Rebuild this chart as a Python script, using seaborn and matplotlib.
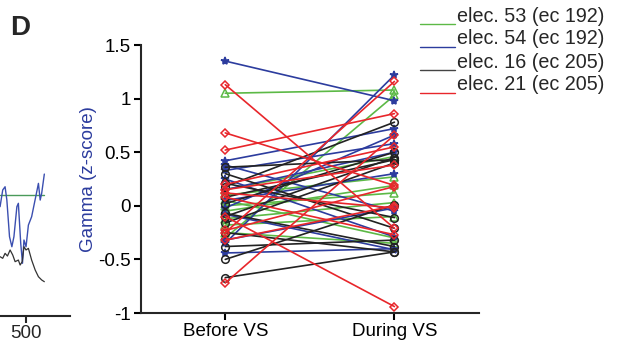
import numpy as np
import pandas as pd
import matplotlib
matplotlib.use("Agg")
import matplotlib.pyplot as plt
from matplotlib.lines import Line2D
import seaborn as sns

sns.set_style("ticks")
plt.rcParams['font.family'] = ['Liberation Sans', 'DejaVu Sans']

# ---------------- data ----------------
conditions = ["Before VS", "During VS"]

green_before = [1.05, 0.15, 0.10, 0.05, 0.00, -0.05, -0.12, -0.18, -0.25, -0.30]
green_during = [1.08, 0.46, 0.27, -0.30, 0.12, 0.19, 0.03, -0.10, -0.35, 1.03]

blue_before = [1.35, 0.42, 0.38, 0.33, 0.25, 0.15, 0.05, -0.02, -0.08, -0.32, -0.35, -0.44]
blue_during = [0.98, 0.72, -0.05, 0.58, -0.29, 0.50, 0.30, 0.66, -0.41, -0.02, 1.22, -0.40]

black_before = [0.36, 0.30, 0.21, 0.18, 0.08, 0.02, -0.07, -0.10, -0.16, -0.25, -0.38, -0.50, -0.67]
black_during = [0.43, -0.21, -0.11, 0.78, 0.43, 0.50, -0.38, 0.45, 0.40, -0.43, -0.32, 0.01, -0.43]

red_before = [1.13, 0.68, 0.52, 0.20, 0.15, 0.12, 0.08, -0.10, -0.23, -0.25, -0.32, -0.72]
red_during = [-0.21, 0.19, 0.86, 0.55, 0.38, -0.02, -0.27, -0.94, 0.18, 1.16, 0.00, 0.66]

legend_labels = ["elec. 53 (ec 192)", "elec. 54 (ec 192)", "elec. 16 (ec 205)", "elec. 21 (ec 205)"]

# partial neighbouring panel (cropped at left edge)
left_t_blue = [413, 422, 430, 436, 445, 453, 460, 470, 475, 483, 489, 494, 501, 509, 520, 535, 543, 549, 554, 563]
left_blue = [0.007, 0.161, 0.191, 0.068, -0.270, -0.363, -0.270, 0.007, 0.038, -0.332, -0.516, -0.301,
             -0.363, -0.163, -0.086, 0.114, 0.222, 0.068, 0.130, 0.308]
left_t_black = [413, 422, 430, 438, 447, 456, 464, 475, 481, 488, 494, 501, 509, 520, 532, 543, 554, 563]
left_black = [-0.455, -0.470, -0.424, -0.449, -0.393, -0.440, -0.501, -0.486, -0.532, -0.501, -0.363,
              -0.393, -0.378, -0.486, -0.578, -0.640, -0.670, -0.686]
left_t_green = [413, 563]
left_green = [0.114, 0.114]

# ---------------- styles ----------------
C_GREEN = "#5cb946"
C_BLUE = "#2c3c9e"
C_BLACK = "#222222"
C_RED = "#e8262b"
FS = 13.5

W, H = 618, 356
fig = plt.figure(figsize=(W / 100, H / 100), dpi=100)

# main axes
ax = fig.add_axes([140.7 / W, 1 - 313 / H, (479 - 140.7) / W, (313 - 45) / H])

groups = [
    (green_before, green_during, C_GREEN, "^", 5.5, "none"),
    (blue_before, blue_during, C_BLUE, "*", 6.0, C_BLUE),
    (black_before, black_during, C_BLACK, "o", 5.5, "none"),
    (red_before, red_during, C_RED, "D", 4.0, "none"),
]

for before, during, color, marker, ms, mfc in groups:
    n = len(before)
    df = pd.DataFrame({
        "x": [0] * n + [1] * n,
        "value": list(before) + list(during),
        "unit": list(range(n)) * 2,
    })
    sns.lineplot(data=df, x="x", y="value", units="unit", estimator=None, ax=ax,
                 color=color, lw=1.2, marker=marker, markersize=ms, mfc=mfc,
                 mec=color, mew=1.1, legend=False)

ax.set_xlim(-0.5, 1.5)
ax.set_ylim(-1, 1.5)
ax.set_xticks([0, 1])
ax.set_xticklabels(conditions, fontsize=FS)
ax.set_yticks([-1, -0.5, 0, 0.5, 1, 1.5])
ax.set_yticklabels(["-1", "-0.5", "0", "0.5", "1", "1.5"], fontsize=FS)
ax.set_xlabel("")
ax.set_ylabel("Gamma (z-score)", color=C_BLUE, fontsize=FS, labelpad=1)
sns.despine(ax=ax)
for s in ("left", "bottom"):
    ax.spines[s].set_linewidth(1.5)
ax.tick_params(direction="out", length=5, width=1.5, pad=2, colors="black")

# legend drawn manually (lines sit at the text baseline)
rows_text = [16, 39, 62, 85]
rows_line = [24, 47, 70, 92.5]
for lab, col, yt, yl in zip(legend_labels, [C_GREEN, C_BLUE, "#444444", C_RED], rows_text, rows_line):
    fig.add_artist(Line2D([420 / W, 455 / W], [1 - yl / H, 1 - yl / H], color=col, lw=1.0))
    fig.text(457 / W, 1 - yt / H, lab, fontsize=14.2, va="center", ha="left")

# partial left panel
axl = fig.add_axes([-121.8 / W, 1 - 315.7 / H, (70 + 121.8) / W, (315.7 - 45) / H])
sns.lineplot(x=left_t_green, y=left_green, ax=axl, color="#4a9a5a", lw=1.0, estimator=None)
sns.lineplot(x=left_t_blue, y=left_blue, ax=axl, color="#3b4fb0", lw=1.0, estimator=None, sort=False)
sns.lineplot(x=left_t_black, y=left_black, ax=axl, color="#333333", lw=0.9, estimator=None, sort=False)
axl.set_xlim(0, 650)
axl.set_ylim(-1, 1.5)
axl.set_xticks([500])
axl.set_xticklabels(["500"], fontsize=FS)
axl.set_yticks([])
axl.set_xlabel("")
axl.set_ylabel("")
for s in ("top", "right", "left"):
    axl.spines[s].set_visible(False)
axl.spines["bottom"].set_linewidth(1.5)
axl.tick_params(direction="out", length=5, width=1.5, pad=2)
axl.patch.set_alpha(0)

fig.text(10 / W, 1 - 28 / H, "D", fontsize=20, fontweight="bold", va="center", ha="left")

fig.savefig("out.png", dpi=100)
